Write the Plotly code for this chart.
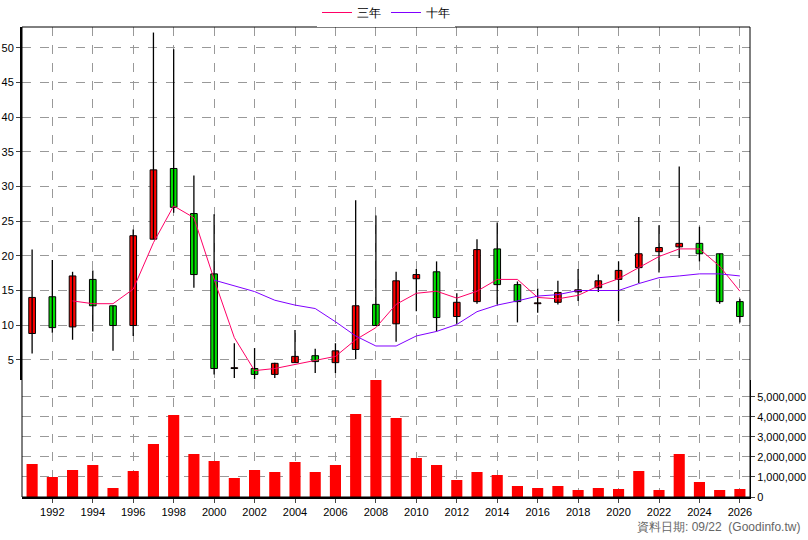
import plotly.graph_objects as go

years = list(range(1991, 2027))
opens = [8.8, 14.1, 9.75, 16.6, 12.8, 9.95, 22.4, 32.6, 26.1, 17.4, 3.75, 3.75, 2.9, 4.6, 5.6, 4.6, 6.5, 13.0,
         10.2, 16.7, 17.7, 11.25, 13.4, 21.0, 15.85, 13.1, 13.3, 14.8, 15.4, 16.6, 18.3, 20.6, 21.3, 21.8, 20.3, 13.4]
highs = [20.9, 19.4, 17.7, 17.9, 12.8, 23.8, 52.2, 49.8, 31.6, 26.0, 7.4, 6.7, 4.6, 9.3, 6.6, 7.4, 28.0, 25.8,
         17.7, 18.1, 19.2, 14.6, 22.4, 24.8, 16.3, 15.3, 16.4, 18.1, 17.3, 19.2, 25.6, 24.4, 32.9, 24.2, 20.3, 13.8]
lows = [5.9, 8.9, 7.9, 9.1, 6.3, 8.45, 22.4, 26.2, 15.4, 2.9, 2.4, 2.2, 2.4, 4.6, 3.1, 3.1, 5.1, 9.95,
        7.6, 12.0, 9.1, 10.2, 13.1, 13.0, 10.4, 11.8, 13.0, 13.5, 14.8, 10.6, 16.1, 17.6, 19.7, 19.2, 13.1, 10.4]
closes = [14.0, 9.65, 17.1, 12.8, 9.95, 22.9, 32.4, 27.0, 17.3, 3.75, 3.8, 2.9, 4.5, 5.5, 4.75, 6.3, 12.8, 9.95,
          16.4, 17.3, 11.1, 13.3, 20.9, 15.85, 13.4, 13.2, 14.7, 15.1, 16.4, 17.9, 20.3, 21.2, 21.8, 20.3, 13.4, 11.25]

ma3_years = list(range(1993, 2027))
ma3 = [13.5, 13.1, 13.1, 15.2, 21.9, 27.2, 25.5, 16.6, 8.2, 3.45, 3.75, 4.3, 4.85, 5.5, 7.9, 9.65, 13.0,
       14.6, 14.9, 13.9, 14.9, 16.6, 16.6, 14.0, 13.8, 14.3, 15.65, 16.7, 18.3, 19.9, 21.0, 21.0, 18.5, 14.9]
ma10_years = list(range(2000, 2027))
ma10 = [16.5, 15.65, 14.85, 13.6, 12.9, 12.4, 10.5, 8.45, 7.0, 7.0, 8.45, 9.1, 10.1, 11.95, 12.9, 13.5,
        14.2, 14.4, 15.0, 15.0, 15.0, 16.0, 16.85, 17.1, 17.4, 17.4, 17.1]

volume = [1.65, 1.0, 1.35, 1.6, 0.45, 1.3, 2.65, 4.1, 2.15, 1.8, 0.95, 1.35, 1.25, 1.75, 1.25, 1.6, 4.15, 5.9,
          3.95, 1.95, 1.6, 0.85, 1.25, 1.1, 0.55, 0.45, 0.55, 0.35, 0.45, 0.4, 1.3, 0.35, 2.15, 0.75, 0.35, 0.4]
volume = [v * 1e6 for v in volume]

price_ticks = list(range(5, 55, 5))
vol_ticks = [0, 1e6, 2e6, 3e6, 4e6, 5e6]
year_ticks = list(range(1992, 2027, 2))

fig = go.Figure()

fig.add_trace(go.Bar(x=years, y=volume, yaxis="y2", width=0.55,
                     marker=dict(color="#ff0000", line=dict(width=0)), showlegend=False))

# wicks
wx, wy = [], []
for yr, h, l in zip(years, highs, lows):
    wx += [yr, yr, None]
    wy += [l, h, None]
fig.add_trace(go.Scatter(x=wx, y=wy, mode="lines", line=dict(color="black", width=1.3),
                         yaxis="y", showlegend=False, hoverinfo="skip"))

# bodies
base = [min(o, c) for o, c in zip(opens, closes)]
size = [max(abs(c - o), 0.12) for o, c in zip(opens, closes)]
colors = ["#ff0000" if c > o else "#00e000" for o, c in zip(opens, closes)]
fig.add_trace(go.Bar(x=years, y=size, base=base, yaxis="y", width=0.33,
                     marker=dict(color=colors, line=dict(color="black", width=1)),
                     showlegend=False))

fig.add_trace(go.Scatter(x=ma3_years, y=ma3, mode="lines", name="三年",
                         line=dict(color="#ff0066", width=1), yaxis="y"))
fig.add_trace(go.Scatter(x=ma10_years, y=ma10, mode="lines", name="十年",
                         line=dict(color="#8000ff", width=1), yaxis="y"))

grid = dict(showgrid=True, gridcolor="#999999", griddash="dash", gridwidth=1, automargin=False)

fig.update_layout(
    width=808, height=540,
    margin=dict(l=22, r=58, t=27, b=43, autoexpand=False),
    paper_bgcolor="white", plot_bgcolor="white",
    font=dict(family="Liberation Sans, Arial", size=11, color="black"),
    legend=dict(orientation="h", x=0.5, xanchor="center", y=1.0, yanchor="bottom",
                font=dict(size=12), borderwidth=0, tracegroupgap=0),
    barmode="overlay",
    xaxis=dict(range=[1990.5, 2026.5], tickvals=year_ticks, ticks="outside", ticklen=4,
               anchor="y2", showline=True, linecolor="black", linewidth=2, **grid),
    yaxis=dict(domain=[0.249, 1], range=[2.1, 53], tickvals=price_ticks, side="left",
               ticks="outside", ticklen=4, showline=True, linecolor="black", linewidth=2, **grid),
    yaxis2=dict(domain=[0, 0.249], range=[0, 5.85e6], tickvals=vol_ticks, tickformat=",",
                side="right", ticks="outside", ticklen=4, anchor="x", showline=True,
                linecolor="black", linewidth=1, **grid),
)

fig.add_shape(type="rect", xref="paper", yref="paper", x0=0, x1=1, y0=0, y1=1,
              line=dict(color="black", width=1))
fig.add_annotation(text="資料日期: 09/22  (Goodinfo.tw)", xref="paper", yref="paper",
                   x=1.072, y=-0.064, xanchor="right", yanchor="middle", showarrow=False,
                   font=dict(size=12, color="#666666"))

fig.write_html("out.html", config={"displayModeBar": False},
               post_script="document.body.style.margin='0';")
